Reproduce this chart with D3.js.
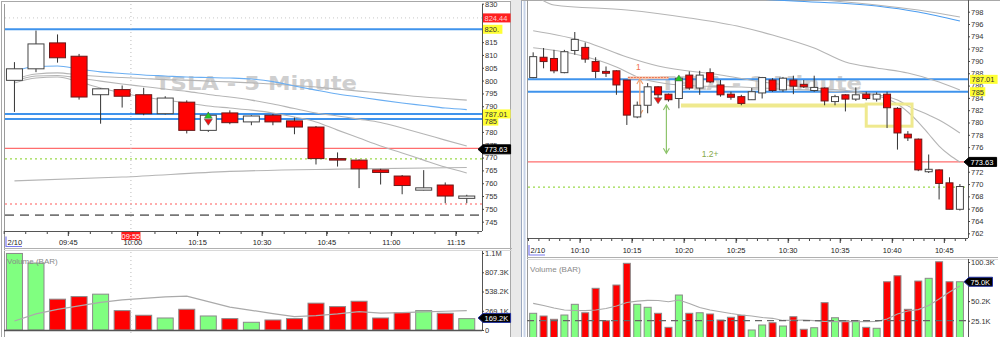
<!DOCTYPE html>
<html>
<head>
<meta charset="utf-8">
<script src="https://cdn.jsdelivr.net/npm/d3@7"></script>
<style>
  body { margin: 0; background: #fff; }
  svg { display: block; font-family: "Liberation Sans", Arial, sans-serif; }
</style>
</head>
<body>
<svg id="chart" width="1000" height="337"></svg>
<script>
// ---------------- left panel: TSLA 5 minute bars, first bar 09:30 ----------------
let leftStart = "09:30";
let leftOpen  = [800.1, 804.6, 814.7, 809.5, 794.5, 796.5, 794.5, 787.1, 791.6, 780.6, 787.4, 783.9, 786.5, 784.3, 781.9, 769.6, 769.0, 765.2, 762.8, 757.3, 759.3, 754.1];
let leftHigh  = [807.2, 819.5, 818.0, 810.4, 797.0, 798.1, 797.2, 793.9, 792.3, 787.8, 788.4, 786.5, 787.0, 785.6, 782.3, 772.0, 769.3, 765.6, 763.2, 765.1, 760.3, 755.5];
let leftLow   = [787.8, 803.3, 807.0, 792.6, 783.2, 789.5, 786.5, 786.8, 779.4, 780.0, 783.0, 782.6, 782.6, 779.1, 767.3, 766.5, 758.1, 759.5, 755.7, 757.2, 752.2, 752.2];
let leftClose = [804.6, 814.3, 808.9, 793.6, 796.8, 793.9, 787.1, 793.2, 780.6, 786.5, 783.6, 786.2, 783.9, 781.9, 769.6, 769.3, 765.6, 764.2, 759.1, 758.2, 755.0, 755.0];
let leftVolume = [1070, 936, 431, 467, 501, 271, 206, 168, 290, 196, 159, 108, 140, 159, 375, 327, 402, 168, 243, 271, 234, 159]; // thousands
let leftVolumeAvg = [126, 225, 289, 338, 386, 420, 441, 462, 474, 396, 320, 275, 229, 188, 202, 225, 257, 237, 243, 253, 262, 271];

// moving averages, one value per bar
let leftMaBlue = [803.7, 805.5, 805.7, 804.5, 803.4, 802.8, 802.2, 801.8, 801.4, 801.2, 801.0, 800.6, 799.6, 797.9, 796.3, 794.8, 793.6, 792.4, 791.3, 790.3, 789.3, 788.7];
let leftMaSlow = [800.6, 802.6, 803.0, 802.2, 801.6, 801.2, 800.8, 800.4, 800.2, 799.8, 799.5, 799.1, 798.7, 798.1, 797.5, 796.7, 795.9, 795.2, 794.4, 793.6, 793.0, 792.4];
let leftMaMid  = [799.8, 801.8, 802.0, 801.0, 799.8, 798.7, 797.7, 796.7, 795.8, 794.6, 793.6, 792.4, 790.9, 789.1, 787.4, 786.2, 785.0, 783.7, 781.5, 779.2, 776.8, 774.5];
let leftMaFast = [799.1, 801.0, 801.4, 799.5, 797.1, 795.2, 793.6, 792.4, 791.3, 790.1, 789.3, 788.5, 787.4, 785.8, 783.9, 780.7, 777.6, 774.5, 771.8, 769.0, 766.3, 764.0];
// long average, read at a few bars: [bar, price]
let leftMaLong = [[0, 760.9], [5, 762.4], [10, 764.6], [15, 765.5], [21, 766.1]];

let leftTimeTicks = ["09:45", "10:00", "10:15", "10:30", "10:45", "11:00", "11:15"];
// 825, 820 and 785 sit under the price tags
let leftPriceTicks = [830, 815, 810, 805, 800, 795, 790, 780, 775, 770, 765, 760, 755, 750, 745];
let leftVolTicks = [0, 269.1, 538.2, 807.3, 1076.4];
let leftVolLabels = ["0", "269.1K", "538.2K", "807.3K", "1.1M"];
let leftBlueLevels = [820, 787.01, 785];

// ---------------- right panel: TSLA 1 minute bars, first bar 10:05 ----------------
let rightStart = "10:05";
let rightOpen  = [787.3, 790.6, 790.4, 788.1, 791.7, 792.2, 789.9, 788.3, 788.4, 786.9, 780.9, 782.8, 785.8, 784.6, 783.9, 787.7, 785.6, 788.1, 786.1, 784.6, 784.2, 783.7, 784.8, 786.9, 785.3, 786.9, 786.2, 785.2, 785.6, 783.4, 784.5, 783.8, 784.6, 783.8, 784.6, 782.3, 778.1, 777.3, 772.0, 772.3, 770.2, 765.9];
let rightHigh  = [791.4, 792.1, 791.8, 791.8, 794.7, 793.0, 790.6, 789.1, 788.5, 786.9, 783.4, 786.4, 785.9, 784.7, 787.4, 788.3, 788.4, 788.8, 786.9, 785.0, 784.5, 785.6, 787.4, 787.2, 787.4, 787.6, 786.9, 787.6, 785.7, 784.5, 784.6, 785.7, 785.0, 784.9, 785.0, 782.5, 778.6, 777.4, 774.8, 772.4, 771.1, 770.0];
let rightLow   = [787.2, 788.8, 788.0, 788.0, 791.0, 789.7, 787.2, 787.4, 784.5, 779.6, 780.7, 781.5, 783.7, 783.4, 782.3, 785.3, 784.5, 786.4, 784.2, 783.7, 782.8, 783.7, 783.9, 785.0, 785.0, 784.6, 785.6, 785.0, 782.8, 782.8, 781.8, 783.5, 783.6, 783.4, 779.1, 775.6, 777.0, 772.1, 771.8, 767.5, 765.9, 765.7];
let rightClose = [790.7, 789.9, 788.4, 791.5, 793.5, 790.3, 788.3, 788.0, 786.1, 781.2, 782.8, 785.8, 784.5, 783.7, 787.2, 785.6, 787.7, 786.6, 784.5, 784.1, 783.1, 785.0, 787.3, 785.2, 787.2, 785.9, 785.8, 785.7, 783.5, 784.2, 783.8, 784.5, 783.9, 784.6, 782.4, 778.3, 777.5, 772.3, 772.4, 770.1, 765.9, 769.6];
let rightVolume = [34.6, 31.1, 26.9, 32.4, 46.1, 35.3, 66.6, 25.1, 70.8, 98.6, 46.1, 42.3, 34.6, 16.6, 58.0, 34.6, 35.3, 33.7, 26.0, 29.5, 32.0, 13.2, 19.6, 22.5, 18.3, 30.2, 14.1, 16.1, 48.2, 28.9, 25.1, 25.1, 16.6, 15.4, 75.0, 82.7, 39.7, 75.9, 79.4, 100.6, 75.0, 75.0];
let rightVolumeAvg = [47.4, 44.6, 41.4, 38.8, 38.2, 37.9, 38.8, 40.7, 43.9, 48.4, 50.3, 51.2, 51.0, 49.4, 51.6, 47.1, 42.0, 38.8, 36.6, 34.3, 32.4, 31.1, 29.2, 28.2, 25.4, 25.6, 26.0, 25.1, 24.1, 23.8, 23.8, 23.8, 23.8, 24.1, 27.3, 33.7, 37.5, 39.4, 44.6, 52.9, 61.8, 69.5];

// moving averages read at a few bars: [bar, price]
let rightMaFast = [[0, 792.15], [4, 791.13], [8, 789.02], [10, 787.39], [13, 786.26], [16, 785.93], [20, 785.77], [24, 785.44], [28, 785.12], [32, 784.63], [34, 783.82], [35, 783.01], [36, 781.71], [37, 780.08], [38, 778.13], [39, 776.18], [40, 774.72], [41, 773.58]];
let rightMaMid  = [[0, 794.91], [5, 793.13], [9, 790.64], [12, 789.18], [18, 787.72], [22, 786.58], [27, 785.61], [32, 784.79], [35, 783.66], [36, 782.70], [38, 781.22], [39, 780.41], [41, 778.30]];
let rightMaSlow = [[0, 800.88], [2, 799.09], [9, 798.28], [15, 796.98], [20, 795.51], [23, 794.21], [27, 792.10], [30, 789.83], [33, 788.85], [36, 788.04], [39, 786.58], [41, 785.28]];
let rightMaBlue = [[18, 800.39], [25, 799.74], [33, 798.93], [37, 797.95], [41, 796.49]];
let rightMaTop  = [[25, 800.23], [30, 799.58], [33, 799.09], [37, 798.28], [41, 797.14]];

let rightTimeTicks = ["10:10", "10:15", "10:20", "10:25", "10:30", "10:35", "10:40", "10:45"];
// 774 sits under the last-price tag
let rightPriceTicks = [798, 796, 794, 792, 790, 788, 786, 784, 782, 780, 778, 776, 772, 770, 768, 766, 764, 762];
let rightVolTicks = [25.1, 50.2, 100.3];
let rightVolLabels = ["25.1K", "50.2K", "100.3K"];
let rightBlueLevels = [787.01, 785];

// shared levels
let redLevel = 773.6;
let greenLevel = 769.5;

// ---------------------------------------------------------------------------------
let svg = d3.select("#chart");
let defs = svg.append("defs");

function mins(t) {
  let [h, m] = t.split(":").map(Number);
  return h * 60 + m;
}

function makeBars(start, step, open, high, low, close, vol) {
  let s = mins(start);
  return open.map((o, i) => ({ t: s + i * step + step / 2, o: o, h: high[i], l: low[i], c: close[i], v: vol[i] }));
}

let leftBars = makeBars(leftStart, 5, leftOpen, leftHigh, leftLow, leftClose, leftVolume);
let rightBars = makeBars(rightStart, 1, rightOpen, rightHigh, rightLow, rightClose, rightVolume);

let L = {
  id: "L", step: 5, start: mins(leftStart), bw: 16,
  left: 4, right: 482, top: 4, bottom: 231,
  volTop: 251, volBottom: 330, labelY: 244.5, sepY: 248.5,
  x: d3.scaleLinear().domain([mins("09:45"), mins("11:15")]).range([68.3, 456]),
  y: d3.scaleLinear().domain([745, 820]).range([221.7, 29.3]),
  v: d3.scaleLinear().domain([0, 1076.4]).range([330, 253])
};

let R = {
  id: "R", step: 1, start: mins(rightStart), bw: 7,
  left: 527, right: 968, top: 0, bottom: 238,
  volTop: 259, volBottom: 337, labelY: 253, sepY: 257.5,
  x: d3.scaleLinear().domain([mins("10:10"), mins("10:45")]).range([580, 944.3]),
  y: d3.scaleLinear().domain([762, 798]).range([233.3, 11.7]),
  v: d3.scaleLinear().domain([0, 100.3]).range([340.3, 262])
};

function barX(P, i) { return P.x(P.start + i * P.step + P.step / 2); }

function clip(id, x, y, w, h) {
  defs.append("clipPath").attr("id", id)
    .append("rect").attr("x", x).attr("y", y).attr("width", w).attr("height", h);
  return "url(#" + id + ")";
}

// ---------------- frames ----------------
svg.append("rect").attr("width", 1000).attr("height", 337).attr("fill", "#fff");
svg.append("rect").attr("x", 510.5).attr("y", 0).attr("width", 11).attr("height", 337).attr("fill", "#e9e9e9");
svg.append("rect").attr("x", 1.5).attr("y", 1.5).attr("width", 509).attr("height", 340)
  .attr("fill", "none").attr("stroke", "#a8a8a8");
svg.append("line").attr("x1", 521.5).attr("x2", 521.5).attr("y1", 0).attr("y2", 337).attr("stroke", "#9aa8c0");
svg.append("line").attr("x1", 524.5).attr("x2", 524.5).attr("y1", 0).attr("y2", 337).attr("stroke", "#c8d4e8").attr("stroke-width", 2);
svg.append("line").attr("x1", 521).attr("x2", 1000).attr("y1", 0.5).attr("y2", 0.5).attr("stroke", "#a8a8a8");

function drawPanel(P, bars) {
  let g = svg.append("g");
  let priceClip = clip("pc" + P.id, P.left, P.top, P.right - P.left, P.bottom - P.top);
  let volClip = clip("vc" + P.id, P.left, P.volTop, P.right - P.left, P.volBottom - P.volTop);

  g.append("line").attr("x1", P.left + 0.5).attr("x2", P.left + 0.5).attr("y1", P.top).attr("y2", 337)
    .attr("stroke", "#9a9a9a");

  // time axis: a small tick on every bar boundary, a longer one under each label
  let first = P.start, last = P.start + bars.length * P.step;
  let minor = d3.range(first, last + P.step, P.step);
  let axisG = g.append("g").attr("transform", `translate(0,${P.bottom})`)
    .call(d3.axisBottom(P.x).tickValues(minor).tickSize(3).tickFormat(""));
  axisG.select(".domain").remove();
  axisG.selectAll("line").attr("stroke", "#444");
  g.append("line").attr("x1", P.left).attr("x2", P.right).attr("y1", P.bottom + 0.5).attr("y2", P.bottom + 0.5)
    .attr("stroke", "#555");
  let ticks = P === L ? leftTimeTicks : rightTimeTicks;
  ticks.forEach(t => {
    let x = P.x(mins(t));
    g.append("line").attr("x1", x).attr("x2", x).attr("y1", P.bottom).attr("y2", P.bottom + 5).attr("stroke", "#333");
    g.append("text").attr("x", x).attr("y", P.labelY).attr("text-anchor", "middle")
      .attr("font-size", 7.5).attr("fill", "#222").text(t);
  });
  // date label with its small highlight bracket
  let dx = P.left + 2;
  g.append("path").attr("d", `M${dx},${P.labelY - 8} V${P.labelY + 2} H${dx + 16}`)
    .attr("fill", "none").attr("stroke", "#7b7bf0").attr("stroke-width", 1.2);
  g.append("text").attr("x", dx + 1.5).attr("y", P.labelY).attr("font-size", 7.5).attr("fill", "#222").text("2/10");

  // separator between price and volume
  g.append("line").attr("x1", P.left).attr("x2", P.right + 30).attr("y1", P.sepY).attr("y2", P.sepY).attr("stroke", "#b0b0b0");
  g.append("line").attr("x1", P.left).attr("x2", P.right + 30).attr("y1", P.sepY + 2).attr("y2", P.sepY + 2).attr("stroke", "#d8d8d8");

  // price axis
  g.append("line").attr("x1", P.right + 0.5).attr("x2", P.right + 0.5).attr("y1", P.top).attr("y2", P.bottom)
    .attr("stroke", "#555");
  let pAxis = g.append("g").attr("transform", `translate(${P.right},0)`)
    .call(d3.axisRight(P.y).tickValues(P === L ? leftPriceTicks : rightPriceTicks).tickSize(2).tickPadding(1)
      .tickFormat(d3.format("d")));
  pAxis.select(".domain").remove();
  pAxis.selectAll("line").attr("stroke", "#444");
  pAxis.selectAll("text").attr("font-size", 7.5).attr("fill", "#333").attr("font-family", "Liberation Sans, Arial");

  // volume axis
  g.append("line").attr("x1", P.right + 0.5).attr("x2", P.right + 0.5).attr("y1", P.volTop).attr("y2", P.volBottom)
    .attr("stroke", "#555");
  let vt = P === L ? leftVolTicks : rightVolTicks;
  let vl = P === L ? leftVolLabels : rightVolLabels;
  let vAxis = g.append("g").attr("transform", `translate(${P.right},0)`)
    .call(d3.axisRight(P.v).tickValues(vt).tickSize(2).tickPadding(1).tickFormat((d, i) => vl[i]));
  vAxis.select(".domain").remove();
  vAxis.selectAll("line").attr("stroke", "#444");
  vAxis.selectAll("text").attr("font-size", 7.5).attr("fill", "#333").attr("font-family", "Liberation Sans, Arial");

  return { g: g, price: g.append("g").attr("clip-path", priceClip), vol: g.append("g").attr("clip-path", volClip) };
}

function watermark(layer, x, y, text) {
  layer.append("text").attr("x", x).attr("y", y).attr("font-family", "DejaVu Sans, sans-serif")
    .attr("font-weight", "bold").attr("font-size", 20).attr("fill", "#cfcfcf")
    .attr("textLength", 202).attr("lengthAdjust", "spacingAndGlyphs").text(text);
}

function hline(layer, P, price, color, width, dash) {
  layer.append("line").attr("x1", P.left + 1).attr("x2", P.right).attr("y1", P.y(price)).attr("y2", P.y(price))
    .attr("stroke", color).attr("stroke-width", width).attr("stroke-dasharray", dash || null);
}

function maLine(layer, P, pts, color) {
  let line = d3.line().x(d => barX(P, d[0])).y(d => P.y(d[1])).curve(d3.curveMonotoneX);
  layer.append("path").datum(pts).attr("d", line).attr("fill", "none").attr("stroke", color).attr("stroke-width", 1.1);
}

function drawCandles(layer, P, bars) {
  let c = layer.selectAll("g.bar").data(bars).enter().append("g").attr("class", "bar");
  c.append("line")
    .attr("x1", d => P.x(d.t)).attr("x2", d => P.x(d.t))
    .attr("y1", d => P.y(d.h)).attr("y2", d => P.y(d.l))
    .attr("stroke", "#333").attr("stroke-width", 1);
  c.append("rect")
    .attr("x", d => P.x(d.t) - P.bw / 2).attr("width", P.bw)
    .attr("y", d => P.y(Math.max(d.o, d.c)))
    .attr("height", d => Math.max(1.5, Math.abs(P.y(d.o) - P.y(d.c))))
    .attr("fill", d => d.c >= d.o ? "#fff" : "#ff0000")
    .attr("stroke", d => d.c >= d.o ? "#444" : "#6a1a1a").attr("stroke-width", 1);
}

function drawVolume(layer, P, bars, avg) {
  layer.selectAll("rect.vol").data(bars).enter().append("rect").attr("class", "vol")
    .attr("x", d => P.x(d.t) - P.bw / 2).attr("width", P.bw)
    .attr("y", d => P.v(d.v)).attr("height", d => P.v(0) - P.v(d.v))
    .attr("fill", d => d.c >= d.o ? "#80ff80" : "#ff0000")
    .attr("stroke", "#8a8a8a").attr("stroke-width", 1);
  let line = d3.line().x((d, i) => barX(P, i)).y(d => P.v(d));
  layer.append("path").datum(avg).attr("d", line).attr("fill", "none").attr("stroke", "#aaa").attr("stroke-width", 1.2);
  // study title goes over the bars
  layer.append("text").attr("x", P.left + 3).attr("y", P.volTop + 13).attr("font-size", 8).attr("fill", "#8a8a8a")
    .text("Volume (BAR)");
}

function triangle(layer, x, y, up, color) {
  let p = up ? `M${x - 4},${y + 3} L${x + 4},${y + 3} L${x},${y - 3} Z` : `M${x - 4},${y - 3} L${x + 4},${y - 3} L${x},${y + 3} Z`;
  layer.append("path").attr("d", p).attr("fill", color).attr("stroke", "#555").attr("stroke-width", 0.5);
}

function tag(layer, x, y, text, bg, fg, arrow, border) {
  let w = text.length * 4.1 + 3;
  if (arrow) {
    layer.append("path").attr("d", `M${x - 5},${y} L${x},${y - 4.5} H${x + w} V${y + 4.5} H${x} Z`)
      .attr("fill", bg).attr("stroke", border || bg).attr("stroke-width", 1);
  } else {
    layer.append("rect").attr("x", x).attr("y", y - 4.5).attr("width", w).attr("height", 9).attr("fill", bg);
  }
  layer.append("text").attr("x", x + 1.5).attr("y", y + 2.8).attr("font-size", 7.5).attr("fill", fg).text(text);
}

// ---------------- left panel ----------------
let pl = drawPanel(L, leftBars);
watermark(pl.price, 155, 90, "TSLA - 5 Minute");
hline(pl.price, L, 824.44, "#c8c8c8", 1, "1,3");
leftBlueLevels.forEach(p => hline(pl.price, L, p, "#3f93ec", 2));
hline(pl.price, L, redLevel, "#ff6e6e", 1.3);
hline(pl.price, L, greenLevel, "#9ad94a", 1.2, "2,3");
hline(pl.price, L, 751.9, "#ff5a5a", 1.2, "2,3");
hline(pl.price, L, 747.6, "#777", 1.8, "9,6");

maLine(pl.price, L, leftMaLong, "#b5b5b5");
maLine(pl.price, L, leftMaSlow.map((v, i) => [i, v]), "#b5b5b5");
maLine(pl.price, L, leftMaMid.map((v, i) => [i, v]), "#b5b5b5");
maLine(pl.price, L, leftMaFast.map((v, i) => [i, v]), "#b5b5b5");
maLine(pl.price, L, leftMaBlue.map((v, i) => [i, v]), "#6aaef2");

drawCandles(pl.price, L, leftBars);
triangle(pl.price, barX(L, 9), L.y(leftClose[9]), true, "#22cc22");
triangle(pl.price, barX(L, 9), L.y(leftClose[9]) + 7, false, "#ee1111");
drawVolume(pl.vol, L, leftBars, leftVolumeAvg);

// crosshair at 10:00 with its time label
let cx = L.x(mins("10:00")) - 2;
pl.g.append("line").attr("x1", cx).attr("x2", cx).attr("y1", L.top).attr("y2", 333)
  .attr("stroke", "#bbb").attr("stroke-dasharray", "1,3");
pl.g.append("rect").attr("x", cx - 9.5).attr("y", L.bottom + 1).attr("width", 19).attr("height", 8).attr("fill", "#ff1a1a");
pl.g.append("text").attr("x", cx).attr("y", L.bottom + 7.5).attr("text-anchor", "middle")
  .attr("font-size", 7.5).attr("fill", "#fff").text("09:55");

// axis tags
tag(pl.g, L.right + 1, L.y(824.44), "824.44", "#ff2020", "#ffd0d0");
tag(pl.g, L.right + 1, L.y(820), "820.", "#ffff33", "#333");
tag(pl.g, L.right + 1, L.y(785) + 2, "785", "#ffff33", "#333");
tag(pl.g, L.right + 1, L.y(787.01), "787.01", "#ffff33", "#333");
tag(pl.g, L.right + 1, L.y(redLevel) + 1, "773.63", "#000", "#fff", true);
tag(pl.g, L.right + 1, L.v(169.2), "169.2K", "#000", "#fff", true, "#2030a0");

// ---------------- right panel ----------------
let pr = drawPanel(R, rightBars);
watermark(pr.price, 660, 90, "TSLA - 1 Minute");
rightBlueLevels.forEach(p => hline(pr.price, R, p, "#3f93ec", 2));
hline(pr.price, R, redLevel, "#ff6e6e", 1.3);
hline(pr.price, R, greenLevel, "#9ad94a", 1.2, "2,3");

maLine(pr.price, R, rightMaTop, "#b5b5b5");
maLine(pr.price, R, rightMaBlue, "#4a9cf0");
maLine(pr.price, R, rightMaSlow, "#b5b5b5");
maLine(pr.price, R, rightMaMid, "#b5b5b5");
maLine(pr.price, R, rightMaFast, "#b5b5b5");

// drawn annotations: yellow level with box, orange range, green move
let ann = pr.price;
ann.append("line").attr("x1", barX(R, 14.2)).attr("x2", barX(R, 32)).attr("y1", R.y(782.76)).attr("y2", R.y(782.76))
  .attr("stroke", "#efe98e").attr("stroke-width", 4);
ann.append("rect").attr("x", barX(R, 32)).attr("y", R.y(783.0)).attr("width", barX(R, 36.4) - barX(R, 32))
  .attr("height", R.y(779.4) - R.y(783.0)).attr("fill", "none").attr("stroke", "#efe98e").attr("stroke-width", 3);
ann.append("rect").attr("x", barX(R, 9.1)).attr("y", R.y(787.5)).attr("width", barX(R, 13) - barX(R, 9.1))
  .attr("height", 3).attr("fill", "#f7c9b4");
ann.append("line").attr("x1", barX(R, 9.1)).attr("x2", barX(R, 13)).attr("y1", R.y(787.3)).attr("y2", R.y(787.3))
  .attr("stroke", "#e8734f").attr("stroke-width", 1).attr("stroke-dasharray", "2,1");
ann.append("text").attr("x", barX(R, 10.1)).attr("y", R.y(788.5)).attr("text-anchor", "middle")
  .attr("font-size", 8.5).attr("fill", "#f07050").text("1");

function dblArrow(layer, x, y1, y2, color) {
  layer.append("line").attr("x1", x).attr("x2", x).attr("y1", y1).attr("y2", y2).attr("stroke", color).attr("stroke-width", 1.2);
  layer.append("path").attr("d", `M${x - 3},${y1 + 5} L${x},${y1} L${x + 3},${y1 + 5} M${x - 3},${y2 - 5} L${x},${y2} L${x + 3},${y2 - 5}`)
    .attr("fill", "none").attr("stroke", color).attr("stroke-width", 1.2);
}
dblArrow(ann, barX(R, 10.25), R.y(787.07), R.y(781.2), "#f0a070");
dblArrow(ann, barX(R, 12.8), R.y(782.84), R.y(775.0), "#8ec46c");
ann.append("text").attr("x", barX(R, 16.2)).attr("y", R.y(774.4)).attr("font-size", 8.5).attr("fill", "#86a94a").text("1.2+");

drawCandles(pr.price, R, rightBars);
triangle(pr.price, barX(R, 14), R.y(rightHigh[14]) + 1, true, "#22cc22");
triangle(pr.price, barX(R, 12), R.y(rightLow[12]) + 1, false, "#ee1111");

drawVolume(pr.vol, R, rightBars, rightVolumeAvg);
pr.vol.append("line").attr("x1", R.left).attr("x2", R.right).attr("y1", R.v(25.1)).attr("y2", R.v(25.1))
  .attr("stroke", "#666").attr("stroke-width", 1.3).attr("stroke-dasharray", "7,5");

tag(pr.g, R.right + 2, R.y(787.01), "787.01", "#ffff33", "#333");
tag(pr.g, R.right + 2, R.y(785), "785", "#ffff33", "#333");
tag(pr.g, R.right + 1, R.y(redLevel), "773.63", "#000", "#fff", true);
tag(pr.g, R.right + 1, R.v(75.0), "75.0K", "#000", "#fff", true, "#2030a0");

// volume baseline on the left panel
svg.append("line").attr("x1", L.left).attr("x2", L.right).attr("y1", 330.5).attr("y2", 330.5).attr("stroke", "#555").attr("stroke-width", 1.5);
</script>
</body>
</html>
